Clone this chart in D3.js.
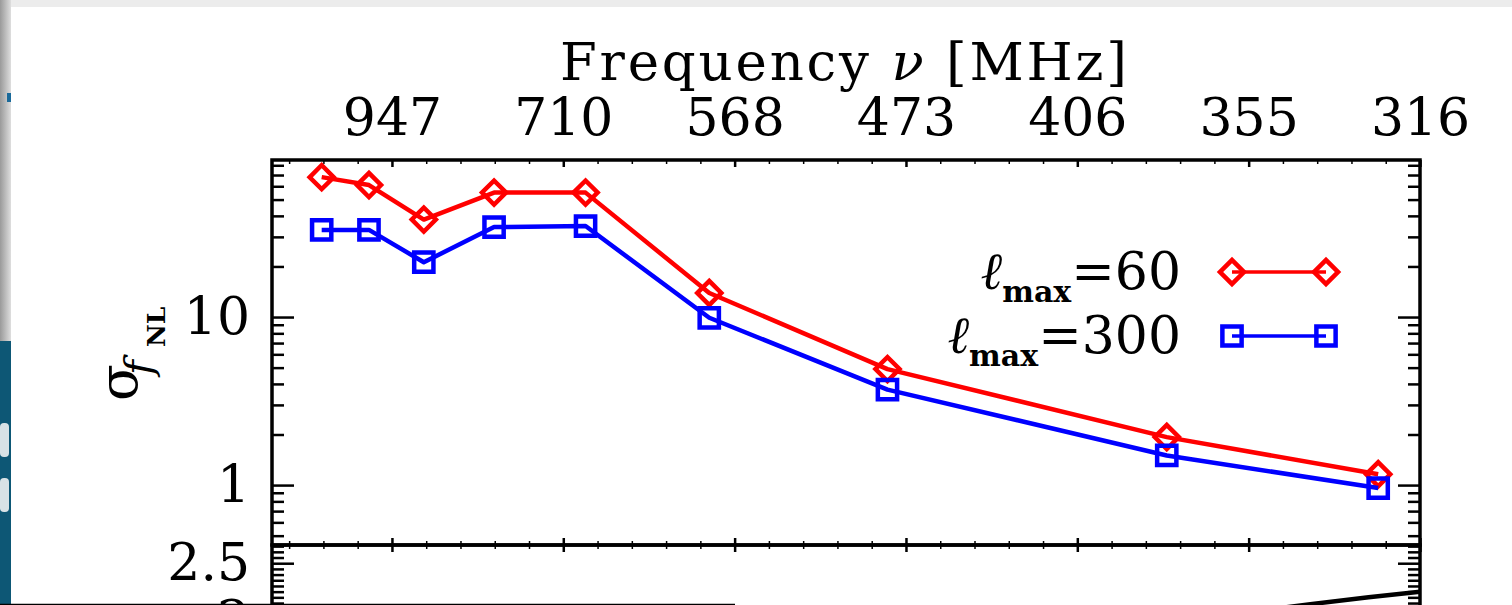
<!DOCTYPE html>
<html>
<head>
<meta charset="utf-8">
<script src="https://cdn.jsdelivr.net/npm/d3@7"></script>
<style>
  body { margin: 0; background: #fff; }
  svg text { font-family: "DejaVu Serif", serif; fill: #000; }
</style>
</head>
<body>
<div id="graph"></div>
<script>
var width = 1512;
var height = 605;

// redshift of each frequency bin, and sigma(fNL) for the two l_max cases
var binZ = [0.295, 0.433, 0.593, 0.798, 1.065, 1.426, 1.946, 2.761, 3.378];
var sigmaL60 = [68, 61, 38, 55, 55, 13.9, 4.9, 1.93, 1.16];
var sigmaL300 = [33, 33, 21.2, 34.3, 34.8, 9.9, 3.7, 1.5, 0.96];

// top axis: ticks in z, labelled with frequency in MHz
var zTicks = [0.5, 1.0, 1.5, 2.0, 2.5, 3.0, 3.5];
var freqLabels = ["947", "710", "568", "473", "406", "355", "316"];

// piece of the lower panel that is visible
var lowZ = [3.0, 3.18, 3.35, 3.5];
var lowVal = [2.07, 2.14, 2.20, 2.25];

var plotLeft = 272, plotRight = 1420, plotTop = 160, plotMid = 545, lowBottom = 677;

var svg = d3.select("#graph")
    .append("svg")
    .attr("width", width)
    .attr("height", height);

// --- bits of the slide around the figure ---
var defs = svg.append("defs");
var grad = defs.append("linearGradient").attr("id", "shade");
grad.append("stop").attr("offset", "0%").attr("stop-color", "#9a9a9a");
grad.append("stop").attr("offset", "100%").attr("stop-color", "#dedede");

svg.append("rect").attr("x", 0).attr("y", 0).attr("width", width).attr("height", 7).attr("fill", "#ececec");
svg.append("rect").attr("x", 0).attr("y", 0).attr("width", 11).attr("height", 341).attr("fill", "url(#shade)");
svg.append("rect").attr("x", 0).attr("y", 341).attr("width", 11).attr("height", 264).attr("fill", "#0d5775");
svg.append("rect").attr("x", 0).attr("y", 423).attr("width", 9).attr("height", 34).attr("rx", 4).attr("fill", "#d8e2e6");
svg.append("rect").attr("x", 0).attr("y", 478).attr("width", 9).attr("height", 34).attr("rx", 4).attr("fill", "#d8e2e6");
svg.append("rect").attr("x", 7).attr("y", 93).attr("width", 4).attr("height", 9).attr("fill", "#1a6a9a");

// --- scales ---
var x = d3.scaleLinear().domain([0.15, 3.5]).range([plotLeft, plotRight]);
var y = d3.scaleLog().domain([0.44, 86]).range([plotMid, plotTop]);
var yLow = d3.scaleLinear().domain([1.5, 2.66]).range([lowBottom, plotMid]);

var zMinor = d3.range(2, 35).map(function(d) { return d / 10; }).filter(function(d) { return Math.round(d * 10) % 5 !== 0; });
var yMinor = [0.5, 0.6, 0.7, 0.8, 0.9, 2, 3, 4, 5, 6, 7, 8, 9, 20, 30, 40, 50, 60, 70, 80];
var lowMinor = d3.range(150, 266, 5).map(function(d) { return d / 100; }).filter(function(d) { return Math.round(d * 100) % 50 !== 0; });

function styleAxis(g, w) {
  g.select(".domain").remove();
  g.selectAll(".tick line").attr("stroke", "#000").attr("stroke-width", w);
  g.selectAll(".tick text").attr("font-size", 52).attr("fill", "#000");
}

// top axis with frequency labels
svg.append("g").attr("transform", "translate(0," + plotTop + ")")
    .call(d3.axisTop(x).tickValues(zTicks).tickSize(-7).tickPadding(25)
        .tickFormat(function(d, i) { return freqLabels[i]; }))
    .call(styleAxis, 2.5);
svg.append("g").attr("transform", "translate(0," + plotTop + ")")
    .call(d3.axisTop(x).tickValues(zMinor).tickSize(-4).tickFormat(""))
    .call(styleAxis, 1.5);

// shared border between the panels, ticks on both sides
svg.append("g").attr("transform", "translate(0," + plotMid + ")")
    .call(d3.axisBottom(x).tickValues(zTicks).tickSize(-7).tickFormat(""))
    .call(styleAxis, 2.5);
svg.append("g").attr("transform", "translate(0," + plotMid + ")")
    .call(d3.axisTop(x).tickValues(zTicks).tickSize(-7).tickFormat(""))
    .call(styleAxis, 2.5);
svg.append("g").attr("transform", "translate(0," + plotMid + ")")
    .call(d3.axisBottom(x).tickValues(zMinor).tickSize(-4).tickFormat(""))
    .call(styleAxis, 1.5);
svg.append("g").attr("transform", "translate(0," + plotMid + ")")
    .call(d3.axisTop(x).tickValues(zMinor).tickSize(-4).tickFormat(""))
    .call(styleAxis, 1.5);

// left / right log axes
svg.append("g").attr("transform", "translate(" + plotLeft + ",0)")
    .call(d3.axisLeft(y).tickValues([1, 10]).tickSize(-22).tickPadding(22).tickFormat(d3.format("d")))
    .call(styleAxis, 2.5);
svg.append("g").attr("transform", "translate(" + plotLeft + ",0)")
    .call(d3.axisLeft(y).tickValues(yMinor).tickSize(-12).tickFormat(""))
    .call(styleAxis, 2.5);
svg.append("g").attr("transform", "translate(" + plotRight + ",0)")
    .call(d3.axisRight(y).tickValues([1, 10]).tickSize(-22).tickFormat(""))
    .call(styleAxis, 2.5);
svg.append("g").attr("transform", "translate(" + plotRight + ",0)")
    .call(d3.axisRight(y).tickValues(yMinor).tickSize(-12).tickFormat(""))
    .call(styleAxis, 2.5);

// lower panel axes
svg.append("g").attr("transform", "translate(" + plotLeft + ",0)")
    .call(d3.axisLeft(yLow).tickValues([2.0, 2.5]).tickSize(-22).tickPadding(22).tickFormat(d3.format("")))
    .call(styleAxis, 2.5);
svg.append("g").attr("transform", "translate(" + plotLeft + ",0)")
    .call(d3.axisLeft(yLow).tickValues(lowMinor).tickSize(-12).tickFormat(""))
    .call(styleAxis, 2.5);
svg.append("g").attr("transform", "translate(" + plotRight + ",0)")
    .call(d3.axisRight(yLow).tickValues([2.0, 2.5]).tickSize(-22).tickFormat(""))
    .call(styleAxis, 2.5);
svg.append("g").attr("transform", "translate(" + plotRight + ",0)")
    .call(d3.axisRight(yLow).tickValues(lowMinor).tickSize(-12).tickFormat(""))
    .call(styleAxis, 2.5);

// frames
svg.append("rect").attr("x", plotLeft).attr("y", plotTop).attr("width", plotRight - plotLeft).attr("height", plotMid - plotTop)
    .attr("fill", "none").attr("stroke", "#000").attr("stroke-width", 3.5);
svg.append("rect").attr("x", plotLeft).attr("y", plotMid).attr("width", plotRight - plotLeft).attr("height", lowBottom - plotMid)
    .attr("fill", "none").attr("stroke", "#000").attr("stroke-width", 3.5);

// lower panel curve
var lowLine = d3.line().x(function(d, i) { return x(lowZ[i]); }).y(function(d) { return yLow(d); });
svg.append("clipPath").attr("id", "lowclip").append("rect")
    .attr("x", plotLeft).attr("y", plotMid).attr("width", plotRight - plotLeft).attr("height", lowBottom - plotMid);
svg.append("path").datum(lowVal).attr("d", lowLine).attr("clip-path", "url(#lowclip)")
    .attr("fill", "none").attr("stroke", "#000").attr("stroke-width", 4.5);

// data series
var series = [
  { name: "60", values: sigmaL60, color: "#ff0000", symbol: "diamond" },
  { name: "300", values: sigmaL300, color: "#0000ff", symbol: "square" }
];

function marker(g, s, cx, cy) {
  if (s.symbol === "diamond") {
    g.append("path").attr("d", d3.symbol(d3.symbolSquare, 290)())
        .attr("transform", "translate(" + cx + "," + cy + ") rotate(45)")
        .attr("fill", "none").attr("stroke", s.color).attr("stroke-width", 4.5);
  } else {
    g.append("path").attr("d", d3.symbol(d3.symbolSquare, 370)())
        .attr("transform", "translate(" + cx + "," + cy + ")")
        .attr("fill", "none").attr("stroke", s.color).attr("stroke-width", 4.5);
  }
}

var line = d3.line().x(function(d, i) { return x(binZ[i]); }).y(function(d) { return y(d); });

series.forEach(function(s) {
  var g = svg.append("g");
  g.append("path").datum(s.values).attr("d", line)
      .attr("fill", "none").attr("stroke", s.color).attr("stroke-width", 4.5).attr("stroke-linejoin", "round");
  s.values.forEach(function(v, i) { marker(g, s, x(binZ[i]), y(v)); });
});

// legend
var legendY = [272, 336];
series.forEach(function(s, i) {
  var t = svg.append("text").attr("x", 1181).attr("y", legendY[i] + 17).attr("text-anchor", "end").attr("font-size", 52);
  t.append("tspan").attr("font-style", "italic").text("\u2113");
  t.append("tspan").attr("font-size", 30).attr("font-weight", "bold").attr("dy", 13).text("max");
  t.append("tspan").attr("dy", -13).text("=" + s.name);
  var g = svg.append("g");
  g.append("line").attr("x1", 1232).attr("x2", 1326).attr("y1", legendY[i]).attr("y2", legendY[i])
      .attr("stroke", s.color).attr("stroke-width", 3.5);
  marker(g, s, 1232, legendY[i]);
  marker(g, s, 1326, legendY[i]);
});

// titles
var title = svg.append("text").attr("x", 560).attr("y", 80).attr("font-size", 53)
    .attr("textLength", 567).attr("lengthAdjust", "spacing");
title.append("tspan").text("Frequency ");
title.append("tspan").attr("font-style", "italic").text("\u03bd");
title.append("tspan").text(" [MHz]");

var ylab = svg.append("text").attr("transform", "translate(137,401) rotate(-90)").attr("font-size", 54);
ylab.append("tspan").attr("x", 0).attr("y", 0).text("\u03c3");
ylab.append("tspan").attr("x", 26).attr("y", 15).attr("font-size", 40).attr("font-style", "italic").text("f");
ylab.append("tspan").attr("x", 54).attr("y", 28).attr("font-size", 25).attr("font-weight", "bold").text("NL");

// edge of the slide below
svg.append("line").attr("x1", 0).attr("x2", 735).attr("y1", 604.5).attr("y2", 604.5)
    .attr("stroke", "#000").attr("stroke-width", 1.5);
</script>
</body>
</html>
